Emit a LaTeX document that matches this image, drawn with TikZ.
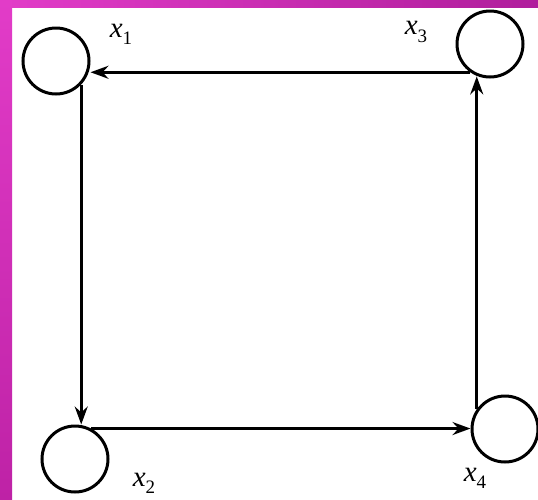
\documentclass[tikz,border=0pt]{standalone}
\usepackage{fontspec}
\setmainfont{Liberation Serif}
\usetikzlibrary{arrows.meta}
\definecolor{magA}{HTML}{E23CC8}
\definecolor{magB}{HTML}{B01E9C}
\definecolor{magC}{HTML}{BE22A6}
\tikzset{
  state/.style={circle, draw=black, line width=3pt, minimum size=66pt, inner sep=0pt},
  flow/.style={line width=2.7pt, -{Stealth[length=18pt, width=13pt, inset=6pt]}},
  lbl/.style={font=\fontsize{29}{32}\selectfont\itshape, inner sep=0pt}
}
\newcommand{\sub}[1]{\raisebox{-0.25em}{\fontsize{19}{21}\selectfont\upshape #1}}
\begin{document}
\begin{tikzpicture}[x=1pt,y=-1pt]
  \useasboundingbox (0,0) rectangle (538,499);
  \fill[white] (0,0) rectangle (538,499);
  \shade[left color=magA, right color=magB] (0,0) rectangle (538,7);
  \shade[top color=magA, bottom color=magC] (0,0) rectangle (12,499);

  \node[state] (x1) at (56,61) {};
  \node[state] (x3) at (490,44) {};
  \node[state] (x2) at (75,459) {};
  \node[state] (x4) at (505,429) {};

  \node[lbl] (l1) at (121,34) {x\sub{1}};
  \node[lbl] (l3) at (416,32) {x\sub{3}};
  \node[lbl] (l2) at (144,483) {x\sub{2}};
  \node[lbl] (l4) at (475,478) {x\sub{4}};

  \draw[flow] (x3.235) -- (x3.235 -| x1.east);
  \draw[flow] (x1.-43) -- (x1.-43 |- x2.north);
  \draw[flow] (x2.62) -- (x2.62 -| x4.west);
  \draw[flow] (x4.145) -- (x4.145 |- x3.250);
\end{tikzpicture}
\end{document}
